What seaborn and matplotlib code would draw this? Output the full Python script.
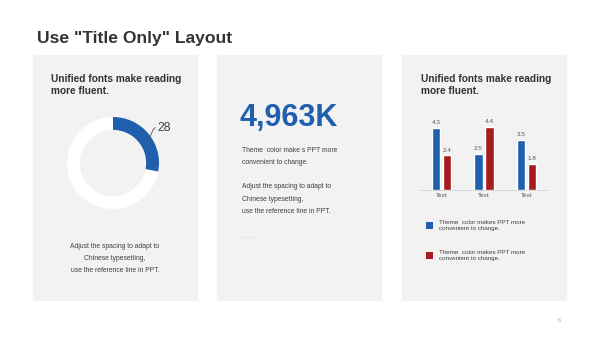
import pandas as pd
import seaborn as sns
import matplotlib.pyplot as plt
from matplotlib.patches import Rectangle

"""
Data
"""
page_title = 'Use "Title Only" Layout'
card_heading = "Unified fonts make reading\nmore fluent."
donut_share = [28, 72]
big_number = "4,963K"
bar_categories = ["Text", "Text", "Text"]
series_names = ["Theme color A", "Theme color B"]
series_blue = [4.3, 2.5, 3.5]
series_red = [2.4, 4.4, 1.8]
legend_labels = ["Theme  color makes PPT more\nconvenient to change.",
                 "Theme  color makes PPT more\nconvenient to change."]
left_note = ["Adjust the spacing to adapt to",
             "Chinese typesetting,",
             "use the reference line in PPT."]
mid_note_1 = ["Theme  color make s PPT more", "convenient to change."]
mid_note_2 = ["Adjust the spacing to adapt to", "Chinese typesetting,",
              "use the reference line in PPT."]
page_number = "6"

BLUE = "#1F5FAE"
RED = "#A51C1F"
PANEL = "#F2F2F2"
DARK = "#333333"
TEXT = "#404040"

sns.set_style("white")
plt.rcParams['font.family'] = ['Liberation Sans', 'DejaVu Sans']

W, H = 600, 337
fig = plt.figure(figsize=(6, 3.37), dpi=100)
fig.patch.set_facecolor("white")


def box(x, y, w, h):
    """pixel box (top-left origin) -> figure fraction rect"""
    return [x / W, 1 - (y + h) / H, w / W, h / H]


def ftext(x, y, s, **kw):
    fig.text(x / W, 1 - y / H, s, **kw)


# grey cards
for x0 in [33, 217, 402]:
    fig.add_artist(Rectangle((x0 / W, 1 - 301 / H), 165 / W, 246 / H,
                             transform=fig.transFigure, facecolor=PANEL,
                             edgecolor="none", zorder=0))

ftext(37, 38, page_title, fontsize=12.6, fontweight="bold", color=DARK,
      va="center", ha="left")

"""
Card 1: donut
"""
ftext(51, 85, card_heading, fontsize=7.3, fontweight="bold", color=DARK,
      va="center", ha="left", linespacing=1.3)

ax_d = fig.add_axes(box(113 - 57.5, 163 - 57.5, 115, 115))
ax_d.pie(donut_share, colors=[BLUE, "white"], startangle=90,
         counterclock=False, wedgeprops=dict(width=0.28, edgecolor="none"))
ax_d.set_xlim(-1.25, 1.25)
ax_d.set_ylim(-1.25, 1.25)
ax_d.set_aspect("equal")
ax_d.axis("off")
# leader line + label
ax_d.plot([0.76, 0.87, 0.92], [0.46, 0.72, 0.77], color="#555555", lw=0.6,
          clip_on=False)
ax_d.text(0.97, 0.77, str(donut_share[0]), fontsize=8.7, color=TEXT,
          va="center", ha="left", clip_on=False)

for i, line in enumerate(left_note):
    ftext(115, 246 + i * 12.5, line, fontsize=4.9, color=TEXT,
          ha="center", va="center")

"""
Card 2: big number
"""
ftext(240, 118, big_number, fontsize=22, fontweight="bold", color=BLUE,
      ha="left", va="center")
for i, line in enumerate(mid_note_1):
    ftext(242, 150 + i * 12.5, line, fontsize=4.9, color=TEXT,
          ha="left", va="center")
for i, line in enumerate(mid_note_2):
    ftext(242, 187 + i * 12.3, line, fontsize=4.9, color=TEXT,
          ha="left", va="center")
ftext(242, 237, "... ...", fontsize=4.4, color="#A6A6A6", ha="left",
      va="center")

"""
Card 3: grouped bars
"""
ftext(421, 85, card_heading, fontsize=7.3, fontweight="bold", color=DARK,
      va="center", ha="left", linespacing=1.3)

df = pd.DataFrame({
    "group": list(range(len(bar_categories))) * 2,
    "series": [series_names[0]] * 3 + [series_names[1]] * 3,
    "value": series_blue + series_red,
})
ax_b = fig.add_axes(box(420, 118, 128, 72))
ax_b.set_facecolor("none")
sns.barplot(data=df, x="group", y="value", hue="series",
            palette=[BLUE, RED], width=0.52, gap=0.27, saturation=1,
            legend=False, ax=ax_b)
for c in ax_b.containers:
    ax_b.bar_label(c, fmt="%.1f", padding=2, fontsize=4.6, color="#595959")
ax_b.set_xlim(-0.5, 2.5)
ax_b.set_ylim(0, 5)
ax_b.set_xticks(range(len(bar_categories)))
ax_b.set_xticklabels(bar_categories, fontsize=4.6, color="#595959")
ax_b.tick_params(axis="x", length=0, pad=2)
ax_b.set_yticks([])
ax_b.set_xlabel("")
ax_b.set_ylabel("")
for s in ["left", "top", "right"]:
    ax_b.spines[s].set_visible(False)
ax_b.spines["bottom"].set_color("#D9D9D9")
ax_b.spines["bottom"].set_linewidth(0.7)

# legend drawn by hand
for i, (col, lab) in enumerate(zip([BLUE, RED], legend_labels)):
    y0 = 222 + i * 30
    fig.add_artist(Rectangle((426 / W, 1 - (y0 + 7) / H), 6.5 / W, 7 / H,
                             transform=fig.transFigure, facecolor=col,
                             edgecolor="none"))
    ftext(439, y0 + 3.5, lab, fontsize=4.5, color=TEXT, ha="left",
          va="center", linespacing=1.15)

ftext(559, 321, page_number, fontsize=4, color="#A6A6A6", ha="center",
      va="center")

fig.savefig("out.png", dpi=100)
